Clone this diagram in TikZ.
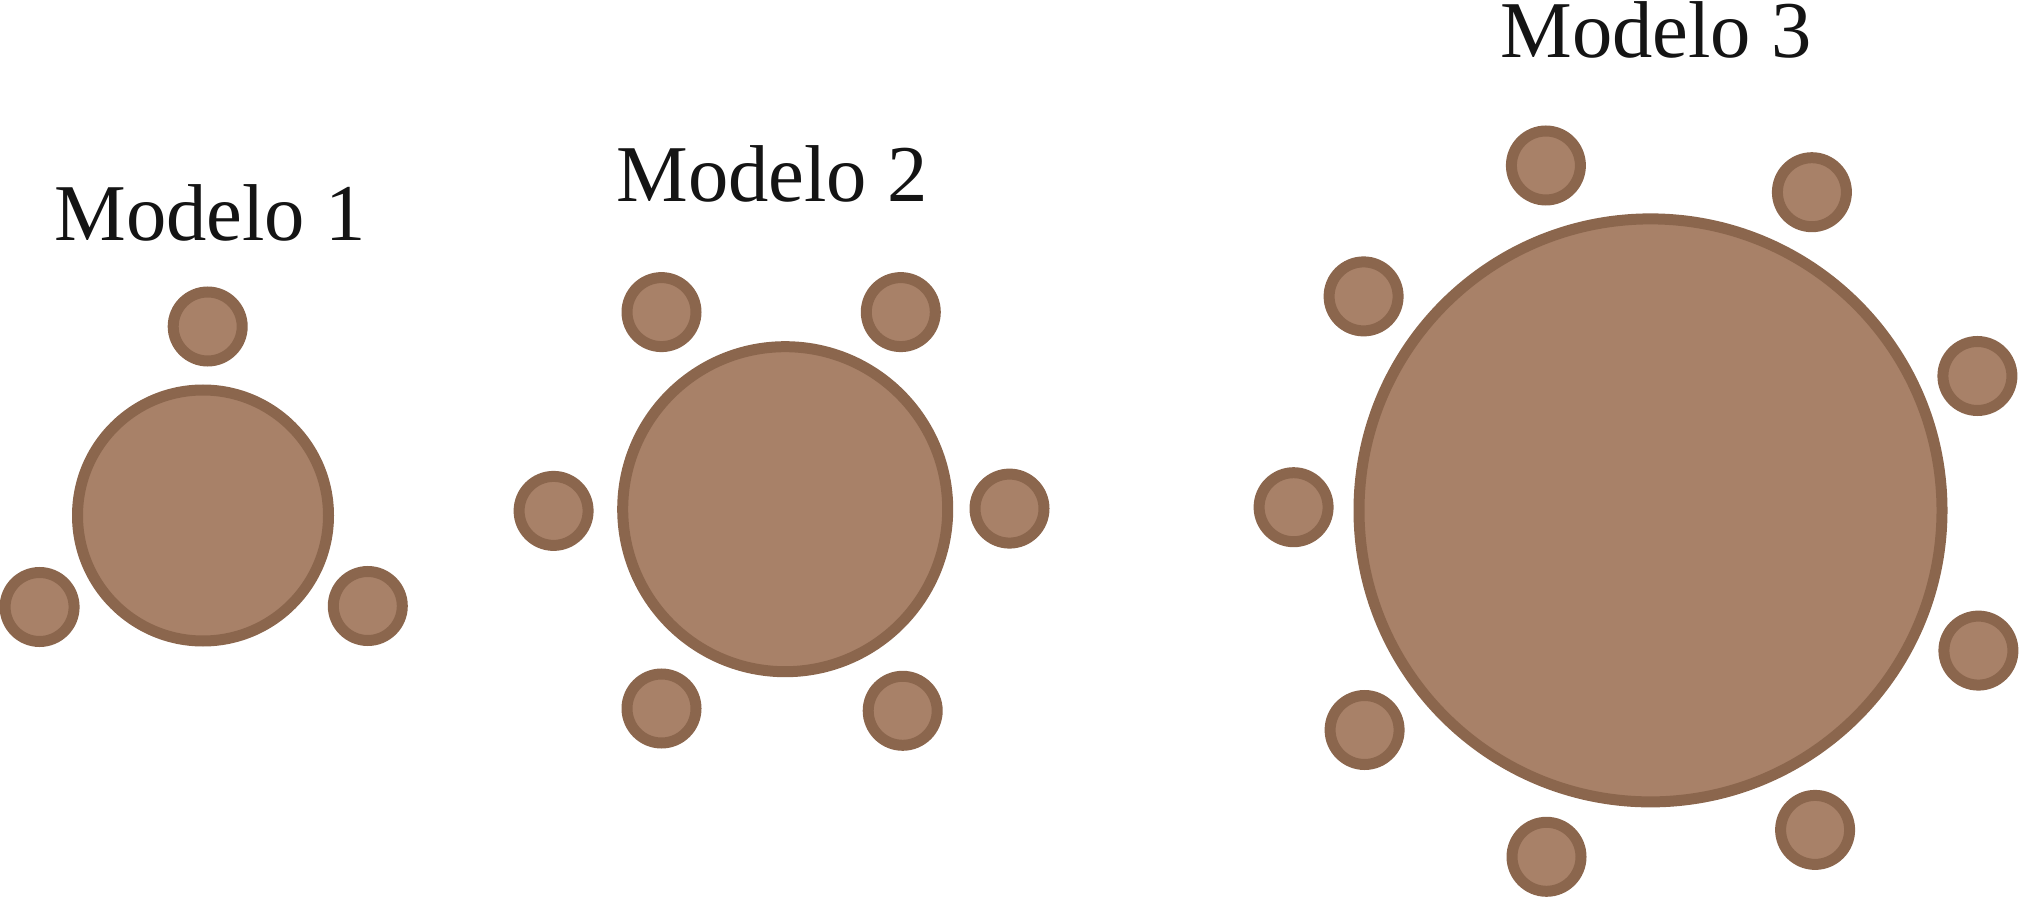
\documentclass[tikz,border=0pt]{standalone}
\usepackage{fontspec}
\setmainfont{Liberation Serif}
\definecolor{seatfill}{RGB}{168,129,104}
\definecolor{seatline}{RGB}{139,102,77}
\begin{document}
\begin{tikzpicture}[x=0.5pt,y=-0.5pt,
  seat/.style={circle,draw=seatline,fill=seatfill,line width=5.5pt,inner sep=0pt,minimum size=34.5pt},
  tablebox/.style={circle,draw=seatline,fill=seatfill,line width=5.5pt,inner sep=0pt},
  lbl/.style={anchor=base west,inner sep=0pt,font=\fontsize{40.3pt}{48pt}\selectfont,text=black!92}]
\useasboundingbox (0,0) rectangle (2019,898);
% Modelo 1
\node[lbl] (l1) at (54,241) {Modelo 1};
\node[tablebox,minimum size=125.5pt] (t1) at (203,515.5) {};
\node[seat] (s11) at (207.7,326.5) {};
\node[seat] (s12) at (39.6,607) {};
\node[seat] (s13) at (367.8,606) {};
% Modelo 2
\node[lbl] (l2) at (616,201.6) {Modelo 2};
\node[tablebox,minimum size=162.5pt] (t2) at (785.2,509.2) {};
\node[seat] (s21) at (661.5,312.1) {};
\node[seat] (s22) at (900.8,312.1) {};
\node[seat] (s23) at (553.6,510.9) {};
\node[seat] (s24) at (1009.5,508.6) {};
\node[seat] (s25) at (661.5,708.5) {};
\node[seat] (s26) at (902.7,710.8) {};
% Modelo 3
\node[lbl] (l3) at (1500,57.3) {Modelo 3};
\node[tablebox,minimum size=291.5pt] (t3) at (1650.5,510.4) {};
\node[seat] (s31) at (1545.9,165.5) {};
\node[seat] (s32) at (1811.9,192.2) {};
\node[seat] (s33) at (1363.6,296.4) {};
\node[seat] (s34) at (1977.4,376) {};
\node[seat] (s35) at (1293.6,507.2) {};
\node[seat] (s36) at (1978.4,650.6) {};
\node[seat] (s37) at (1364.6,730) {};
\node[seat] (s38) at (1815.1,829.9) {};
\node[seat] (s39) at (1546.5,856.8) {};
\end{tikzpicture}
\end{document}
